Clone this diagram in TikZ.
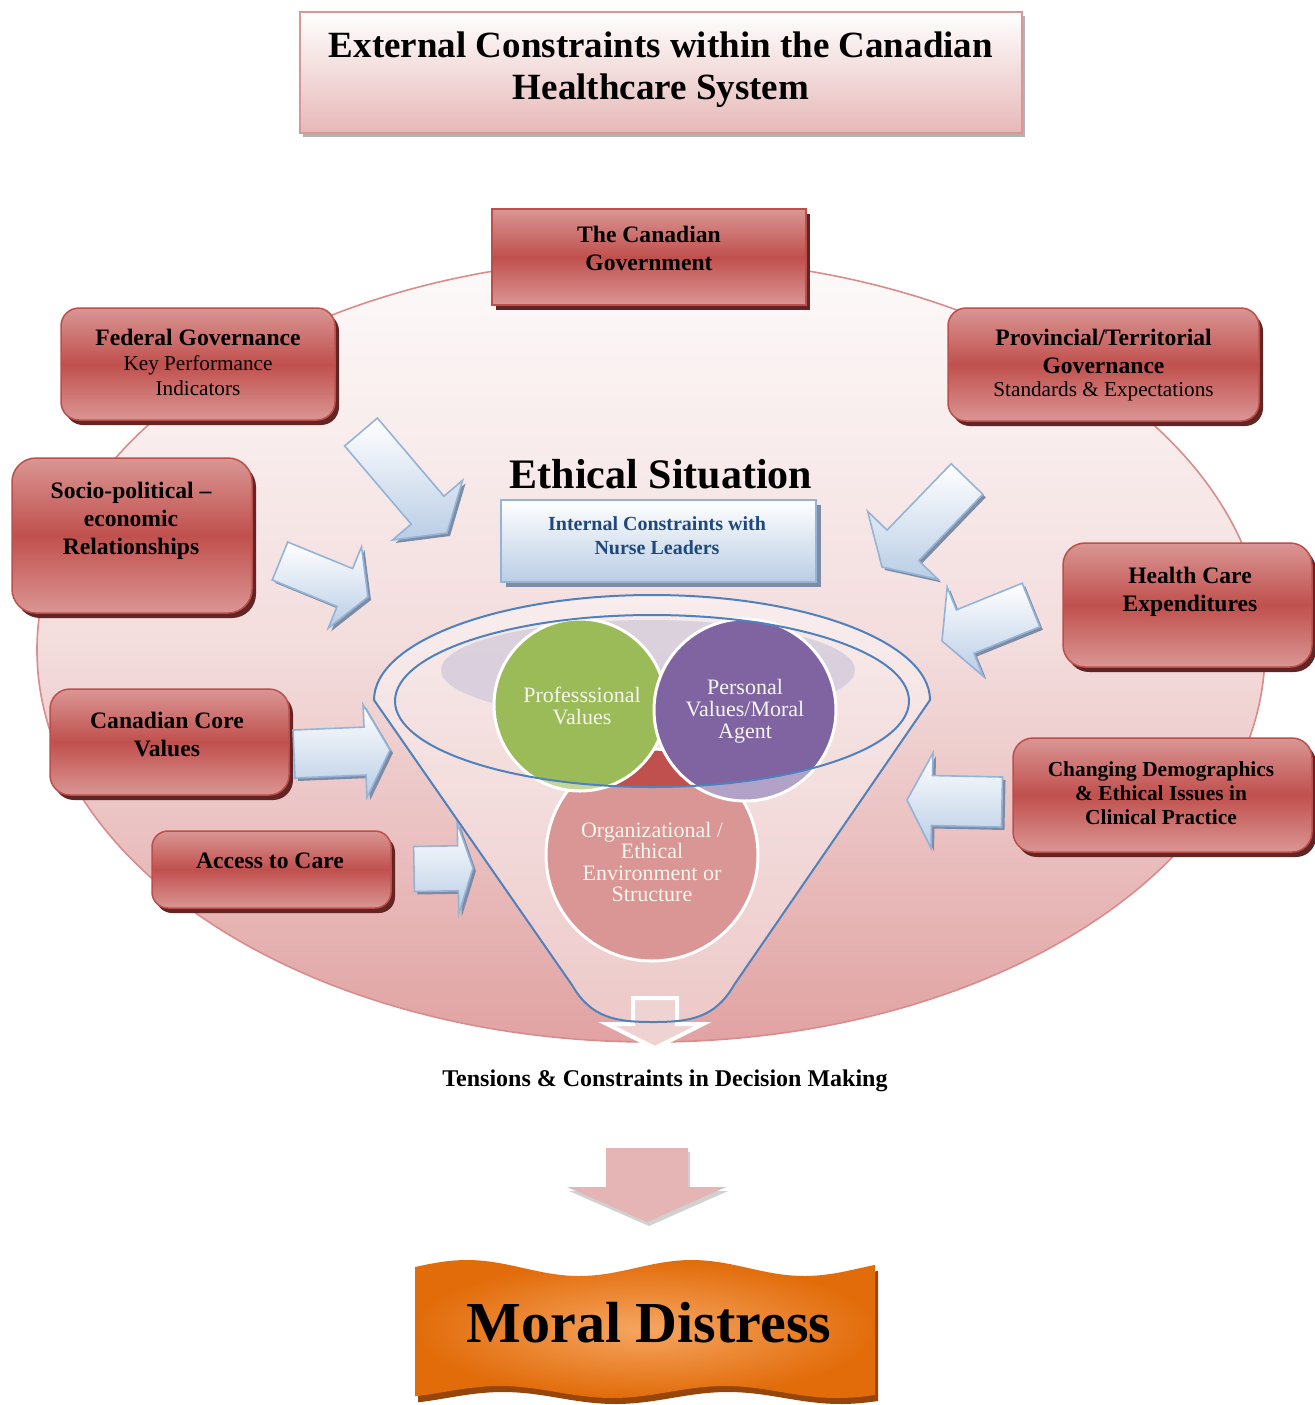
\documentclass[tikz,border=0pt]{standalone}
\usepackage{fontspec}
\setmainfont{Liberation Serif}
\usetikzlibrary{shadows}

\definecolor{redLight}{RGB}{218,150,148}
\definecolor{redMid}{RGB}{192,80,77}
\definecolor{redEdge}{RGB}{188,78,75}
\definecolor{redShadow}{RGB}{99,37,35}
\definecolor{ellTop}{RGB}{253,250,250}
\definecolor{ellMid}{RGB}{243,220,220}
\definecolor{ellBot}{RGB}{225,162,162}
\definecolor{ellEdge}{RGB}{217,140,140}
\definecolor{titleBot}{RGB}{230,184,183}
\definecolor{titleEdge}{RGB}{217,150,148}
\definecolor{blueLight}{RGB}{185,205,229}
\definecolor{blueEdge}{RGB}{149,179,215}
\definecolor{blueShadow}{RGB}{125,140,165}
\definecolor{navy}{RGB}{31,73,125}
\definecolor{funnelBlue}{RGB}{79,129,189}
\definecolor{profGreen}{RGB}{155,187,89}
\definecolor{persPurple}{RGB}{128,100,162}
\definecolor{haze}{RGB}{214,205,220}
\definecolor{softText}{RGB}{246,246,238}
\definecolor{downPink}{RGB}{229,181,181}
\definecolor{orangeIn}{RGB}{246,166,98}
\definecolor{orangeOut}{RGB}{226,108,10}
\definecolor{orangeShadow}{RGB}{150,70,10}

\tikzset{
  redbox/.style={draw=redEdge, line width=0.75pt, top color=redLight,
    bottom color=redLight, middle color=redMid, rounded corners=9pt,
    inner sep=0pt,
    drop shadow={shadow xshift=2pt, shadow yshift=-2.5pt, fill=redShadow, opacity=1}},
  boxtext/.style={align=center, inner sep=0pt,
    font=\fontsize{11.8}{14}\selectfont\bfseries},
  subtext/.style={align=center, inner sep=0pt,
    font=\fontsize{10.6}{12.5}\selectfont},
  blockfill/.style={top color=white, bottom color=blueLight, draw=blueEdge,
    line width=0.8pt, line join=miter},
  venn/.style={draw=white, line width=1.5pt},
  venntext/.style={align=center, inner sep=0pt, text=softText},
}

% point of a block arrow in its own frame: #2 along the axis, #3 across it
\newcommand\arrowpt[3]{%
  \coordinate (#1) at ({\aTx+(#2)*\aC-(#3)*\aS},{\aTy+(#2)*\aS+(#3)*\aC});}
% block arrow: name, tail x, tail y, tip x, tip y, shaft width, head width, head length
\newcommand\bluearrow[8]{%
  \pgfmathsetmacro\aTx{#2}\pgfmathsetmacro\aTy{#3}%
  \pgfmathsetmacro\aAng{atan2((#5)-(#3),(#4)-(#2))}%
  \pgfmathsetmacro\aLen{veclen((#4)-(#2),(#5)-(#3))}%
  \pgfmathsetmacro\aC{cos(\aAng)}\pgfmathsetmacro\aS{sin(\aAng)}%
  \pgfmathsetmacro\aB{\aLen-(#8)}%
  \pgfmathsetmacro\aW{(#6)/2}\pgfmathsetmacro\aH{(#7)/2}%
  \arrowpt{#1-a}{0}{-\aW}%
  \arrowpt{#1-b}{\aB}{-\aW}%
  \arrowpt{#1-c}{\aB}{-\aH}%
  \coordinate (#1-d) at (#4,#5);%
  \arrowpt{#1-e}{\aB}{\aH}%
  \arrowpt{#1-f}{\aB}{\aW}%
  \arrowpt{#1-g}{0}{\aW}%
  \fill[blueShadow, transform canvas={shift={(1.5pt,-1.5pt)}}]
    (#1-a) -- (#1-b) -- (#1-c) -- (#1-d) -- (#1-e) -- (#1-f) -- (#1-g) -- cycle;%
  \path[blockfill]
    (#1-a) -- (#1-b) -- (#1-c) -- (#1-d) -- (#1-e) -- (#1-f) -- (#1-g) -- cycle;%
}

\begin{document}
\begin{tikzpicture}[x=0.5pt, y=-0.5pt]
\useasboundingbox (0,0) rectangle (1314,1405);
\fill[white] (0,0) rectangle (1314,1405);

% the system ellipse
\shade[top color=ellTop, bottom color=ellBot, middle color=ellMid]
  (651,650) ellipse [x radius=614, y radius=392];
\draw[ellEdge, line width=0.8pt] (651,650) ellipse [x radius=614, y radius=392];

% title
\node[draw=titleEdge, line width=1pt, top color=white, bottom color=titleBot,
  minimum width=361pt, minimum height=60.5pt, inner sep=0pt,
  drop shadow={shadow xshift=1.5pt, shadow yshift=-2pt, fill=black!30, opacity=1}]
  (title) at (661,72.5) {};
\node[align=center, inner sep=0pt, font=\fontsize{18.5}{21}\selectfont\bfseries]
  (title-t) at (661,70) {External Constraints within the Canadian\\Healthcare System};

% external constraint boxes
\node[redbox, sharp corners, minimum width=157pt, minimum height=48pt] (gov) at (649,257) {};
\node[boxtext] (gov-t) at (649,248) {The Canadian\\Government};

\node[redbox, minimum width=137pt, minimum height=56pt] (fed) at (198,364) {};
\node[boxtext] (fed-t1) at (198,337) {Federal Governance};
\node[subtext] (fed-t2) at (198,375.5) {Key Performance\\Indicators};

\node[redbox, minimum width=155.5pt, minimum height=56.5pt] (prov) at (1103.5,364.5) {};
\node[boxtext] (prov-t1) at (1103.5,351) {Provincial/Territorial\\Governance};
\node[subtext] (prov-t2) at (1103.5,391) {Standards \& Expectations};

\node[redbox, rounded corners=12pt, minimum width=120pt, minimum height=77.5pt] (socio) at (132,535.5) {};
\node[boxtext] (socio-t) at (131,521) {Socio-political --\\economic\\Relationships};

\node[redbox, rounded corners=11pt, minimum width=124.5pt, minimum height=62pt] (health) at (1187.5,605) {};
\node[boxtext] (health-t) at (1190,592) {Health Care\\Expenditures};

\node[redbox, rounded corners=10pt, minimum width=119.5pt, minimum height=53pt] (core) at (169.5,742) {};
\node[boxtext] (core-t) at (167,734) {Canadian Core\\Values};

\node[redbox, rounded corners=8pt, minimum width=119.5pt, minimum height=38.5pt] (access) at (271.5,869.5) {};
\node[boxtext] (access-t) at (270,861) {Access to Care};

\node[redbox, rounded corners=10pt, minimum width=149.5pt, minimum height=57pt] (chang) at (1162.5,795) {};
\node[boxtext, font=\fontsize{10.7}{12}\selectfont\bfseries] (chang-t) at (1161,793)
  {Changing Demographics\\\& Ethical Issues in\\Clinical Practice};

% inward block arrows
\bluearrow{arF}{361}{432}{447}{533}{43}{92}{30}
\bluearrow{arS}{280}{561}{368}{597}{41}{88}{25}
\bluearrow{arP}{967}{479}{882}{567}{44}{98}{30}
\bluearrow{arH}{1031}{605}{942}{641}{47}{96}{25}
\bluearrow{arC}{294}{754}{390}{750}{48}{93}{25}
\bluearrow{arA}{414}{869}{473}{868}{45}{91}{15}
\bluearrow{arD}{1002}{802}{907}{800}{50}{95}{25}

% ethical situation heading and internal constraints
\node[inner sep=0pt, font=\fontsize{21}{24}\selectfont\bfseries] (ethic) at (661,474) {Ethical Situation};
\node[draw=blueEdge, line width=1.2pt, top color=white, bottom color=blueLight,
  minimum width=157.5pt, minimum height=41pt, inner sep=0pt,
  drop shadow={shadow xshift=2.5pt, shadow yshift=-2.5pt, fill=blueShadow, opacity=1}]
  (internal) at (658.5,541) {};
\node[align=center, inner sep=0pt, text=navy, font=\fontsize{10}{12}\selectfont\bfseries]
  (internal-t) at (657,536) {Internal Constraints with\\Nurse Leaders};

% funnel mouth: light wash and soft haze behind the circles
\fill[white, opacity=0.35] (652,701) ellipse [x radius=257, y radius=86];
\fill[haze, opacity=0.85] (648,670) ellipse [x radius=207, y radius=50];

% overlapping value circles
\path[venn, fill=redMid] (652,855) circle [radius=106];
\path[venn, fill=profGreen] (580,705) circle [radius=86];
\path[venn, fill=persPurple] (745,710) circle [radius=91];

% translucent funnel body over everything outside the mouth
\fill[white, opacity=0.4, even odd rule]
  (374,700) arc[start angle=180, end angle=360, x radius=278, y radius=105]
  -- (734,985) .. controls (715,1018) and (690,1022) .. (653,1022)
  .. controls (616,1022) and (591,1018) .. (572,985) -- cycle
  (652,701) ellipse [x radius=257, y radius=86];

\node[venntext, font=\fontsize{11}{11}\selectfont] (prof) at (582,706) {Professsional\\Values};
\node[venntext, font=\fontsize{11}{11}\selectfont] (pers) at (745,711) {Personal\\Values/Moral\\Agent};
\node[venntext, font=\fontsize{11}{10.7}\selectfont] (org) at (652,862)
  {Organizational /\\Ethical\\Environment or\\Structure};

% outflow arrow at the funnel tip
\path[draw=white, line width=2pt, fill=downPink!60!white, line join=miter]
  (633,998) -- (677,998) -- (677,1024) -- (703,1024) -- (655,1048) -- (607,1024) -- (633,1024) -- cycle;

% funnel outlines
\draw[funnelBlue, line width=1pt] (652,701) ellipse [x radius=257, y radius=86];
\draw[funnelBlue, line width=1pt] (374,700) arc[start angle=180, end angle=360, x radius=278, y radius=105]
  -- (734,985) .. controls (715,1018) and (690,1022) .. (653,1022)
  .. controls (616,1022) and (591,1018) .. (572,985) -- cycle;

\node[inner sep=0pt, font=\fontsize{12}{14}\selectfont\bfseries] (tension) at (665,1081)
  {Tensions \& Constraints in Decision Making};

% result arrow
\fill[black!18, transform canvas={shift={(1pt,-2pt)}}]
  (606,1148) -- (688,1148) -- (688,1187) -- (726,1187) -- (647,1222) -- (567,1187) -- (606,1187) -- cycle;
\fill[downPink]
  (606,1148) -- (688,1148) -- (688,1187) -- (726,1187) -- (647,1222) -- (567,1187) -- (606,1187) -- cycle;

% moral distress banner
\fill[orangeShadow, transform canvas={shift={(1.5pt,-3pt)}}]
  plot[domain=415:875, samples=80] (\x,{1268-8*sin(1.6*(\x-415)+7)})
  -- plot[domain=875:415, samples=80] (\x,{1392-6*sin(1.6*(\x-415)-46)}) -- cycle;
\shade[inner color=orangeIn, outer color=orangeOut]
  plot[domain=415:875, samples=80] (\x,{1268-8*sin(1.6*(\x-415)+7)})
  -- plot[domain=875:415, samples=80] (\x,{1392-6*sin(1.6*(\x-415)-46)}) -- cycle;
\node[inner sep=0pt, font=\fontsize{29}{32}\selectfont\bfseries] (moral) at (649,1323) {Moral Distress};
\end{tikzpicture}
\end{document}
